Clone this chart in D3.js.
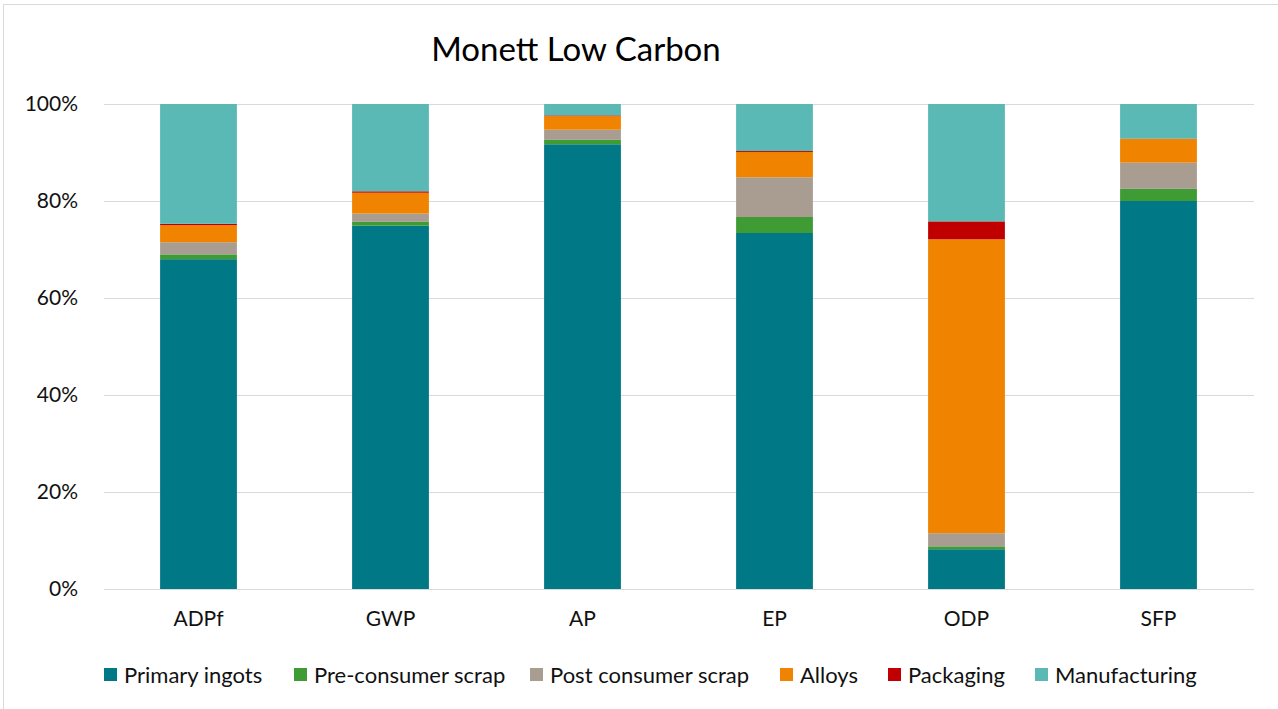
<!DOCTYPE html>
<html><head><meta charset="utf-8">
<script src="https://cdn.jsdelivr.net/npm/d3@7"></script>
<style>body{margin:0;background:#fff;} svg{display:block;font-family:Lato,"Open Sans",sans-serif;}</style>
</head><body>
<svg id="chart" width="1278" height="709"></svg>
<script>
const categories = ["ADPf","GWP","AP","EP","ODP","SFP"];
const seriesNames = ["Primary ingots","Pre-consumer scrap","Post consumer scrap","Alloys","Packaging","Manufacturing"];
const primaryIngots = [68.0, 74.9, 91.7, 73.4, 8.2, 80.0];
const preConsumer   = [1.0, 0.8, 0.9, 3.3, 0.6, 2.5];
const postConsumer  = [2.5, 1.7, 2.1, 8.2, 2.7, 5.4];
const alloys        = [3.5, 4.3, 2.8, 5.2, 60.6, 4.9];
const packaging     = [0.3, 0.3, 0.15, 0.2, 3.7, 0.05];
const manufacturing = [24.7, 18.0, 2.35, 9.7, 24.2, 7.15];
const yTicks = [0, 20, 40, 60, 80, 100];
const colors = ["#007885","#3f9c35","#a99d91","#f08300","#c00000","#5bb9b5"];

const seriesValues = [primaryIngots, preConsumer, postConsumer, alloys, packaging, manufacturing];
const table = categories.map((c, i) => {
  const row = {cat: c};
  seriesNames.forEach((s, j) => row[s] = seriesValues[j][i]);
  return row;
});

const svg = d3.select("#chart");
svg.append("rect").attr("x",3.5).attr("y",4.5).attr("width",1290).attr("height",720)
  .attr("fill","none").attr("stroke","#d9d9d9");

const x = d3.scaleBand().domain(categories).range([102.5, 1254.5]).padding(0);
const y = d3.scaleLinear().domain([0, 100]).range([589, 104]);
const barW = x.bandwidth() * 0.4;

svg.append("text").attr("x", 576).attr("y", 61).attr("text-anchor","middle")
  .attr("font-size", 33).attr("fill","#000").text("Monett Low Carbon");

// grid
svg.append("g").selectAll("line").data(yTicks).join("line")
  .attr("x1", 104).attr("x2", 1254)
  .attr("y1", d => y(d)+0.5).attr("y2", d => y(d)+0.5)
  .attr("stroke", "#d9d9d9").attr("stroke-width", 1);

const yAxis = d3.axisLeft(y).tickValues(yTicks).tickFormat(d => d + "%").tickSize(0).tickPadding(0);
const yg = svg.append("g").attr("transform", "translate(78,0)").call(yAxis);
yg.select(".domain").remove();
yg.selectAll("text").attr("font-size", 21).attr("fill", "#111").attr("font-family","Lato,sans-serif");

const stack = d3.stack().keys(seriesNames)(table);
svg.append("g").selectAll("g").data(stack).join("g")
  .attr("fill", (d, i) => colors[i])
  .selectAll("rect").data(d => d).join("rect")
  .attr("x", d => x(d.data.cat) + (x.bandwidth() - barW) / 2)
  .attr("y", d => y(d[1]))
  .attr("height", d => y(d[0]) - y(d[1]))
  .attr("width", barW);

const xAxis = d3.axisBottom(x).tickSize(0).tickPadding(0);
const xg = svg.append("g").attr("transform", "translate(0,611)").call(xAxis);
xg.select(".domain").remove();
xg.selectAll("text").attr("font-size", 21).attr("fill", "#111").attr("font-family","Lato,sans-serif");

// legend
const legendX = [104, 294, 530, 780, 888, 1035];
const lg = svg.append("g");
seriesNames.forEach((s, i) => {
  lg.append("rect").attr("x", legendX[i]).attr("y", 668).attr("width", 13).attr("height", 13).attr("fill", colors[i]);
  lg.append("text").attr("x", legendX[i] + 20).attr("y", 683).attr("font-size", 22).attr("fill", "#111").text(s);
});
</script>
</body></html>
